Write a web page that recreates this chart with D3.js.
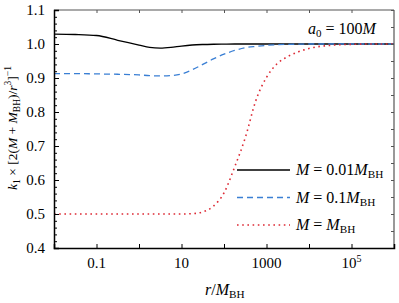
<!DOCTYPE html>
<html><head><meta charset="utf-8">
<script src="https://cdn.jsdelivr.net/npm/d3@7"></script>
</head>
<body style="margin:0;background:#fff"><svg id="c" width="399" height="303"></svg>
<script>
// r / M_BH sample positions (log-spaced)
const rValues = [1e-2, 3.162e-2, 1e-1, 3.162e-1, 1, 1.778, 3.162, 5.623, 10, 17.78, 31.62, 56.23, 100, 177.8, 316.2, 562.3, 1000, 1778, 3162, 5623, 1e4, 3.162e4, 1e5, 3.162e5, 1e6];
const blackSeries = [1.029, 1.028, 1.025, 1.011, 0.997, 0.990, 0.988, 0.990, 0.994, 0.997, 0.9985, 0.9993, 0.9997, 1.0, 1.0, 1.0, 1.0, 1.0, 1.0, 1.0, 1.0, 1.0, 1.0, 1.0, 1.0];
const blueSeries  = [0.913, 0.913, 0.912, 0.911, 0.909, 0.907, 0.906, 0.907, 0.912, 0.924, 0.940, 0.956, 0.970, 0.981, 0.989, 0.993, 0.996, 0.998, 0.999, 0.9995, 1.0, 1.0, 1.0, 1.0, 1.0];
const redSeries   = [0.5, 0.5, 0.5, 0.5, 0.5, 0.5, 0.5, 0.5, 0.5, 0.501, 0.506, 0.523, 0.562, 0.638, 0.724, 0.834, 0.902, 0.942, 0.963, 0.977, 0.987, 0.996, 0.999, 1.0, 1.0];
const seriesNames = ["M = 0.01M_BH", "M = 0.1M_BH", "M = M_BH"];
const xTickValues = [0.1, 1, 10, 100, 1000, 1e4, 1e5];
const xTickLabels = ["0.1", "", "10", "", "1000", "", "10^5"];
const yTickLabels = ["0.4", "0.5", "0.6", "0.7", "0.8", "0.9", "1.0", "1.1"];

const FONT = "Liberation Serif";
const svg = d3.select("#c");
const L = 54, R = 394, T = 10, B = 248;
const x = d3.scaleLog().domain([1e-2, 1e6]).range([L, R]);
const y = d3.scaleLinear().domain([0.4, 1.1]).range([B, T]);

const colors = ["#000000", "#3a7fd4", "#dd2a35"];
const dashes = [null, "6,4", "1.6,3.6"];
const widths = [1.3, 1.3, 1.6];
const allSeries = [blackSeries, blueSeries, redSeries];

svg.append("clipPath").attr("id","clp").append("rect")
  .attr("x", L).attr("y", T).attr("width", R-L).attr("height", B-T);

const line = d3.line().x(d => x(d[0])).y(d => y(d[1])).curve(d3.curveMonotoneX);
allSeries.forEach((s, i) => {
  svg.append("path").datum(rValues.map((r, j) => [r, s[j]]))
    .attr("d", line).attr("fill", "none").attr("stroke", colors[i])
    .attr("stroke-width", widths[i]).attr("stroke-dasharray", dashes[i])
    .attr("clip-path", "url(#clp)");
});

// frame
svg.append("line").attr("x1", R).attr("x2", R).attr("y1", T).attr("y2", B).attr("stroke", "#555").attr("stroke-width", 1.2);
svg.append("line").attr("x1", L).attr("x2", R).attr("y1", T).attr("y2", T).attr("stroke", "#555").attr("stroke-width", 1.2);

// left axis
const yMajor = d3.range(0, 8).map(i => 0.4 + i * 0.1);
const yMinor = d3.range(0, 36).map(i => 0.4 + i * 0.02).filter(v => Math.abs(Math.round(v*10) - v*10) > 1e-6);
const leftAxis = d3.axisLeft(y).tickValues(yMajor).tickSize(-5).tickPadding(9)
  .tickFormat((d, i) => yTickLabels[i]);
const gl = svg.append("g").attr("transform", `translate(${L},0)`).call(leftAxis);
gl.attr("font-family", FONT).attr("font-size", 15);
gl.select(".domain").attr("stroke", "#000").attr("stroke-width", 1.5);
gl.selectAll(".tick line").attr("stroke", "#000").attr("stroke-width", 1);
gl.selectAll("text").attr("font-family", FONT).attr("font-size", 15).attr("fill", "#000");
const glm = svg.append("g").attr("transform", `translate(${L},0)`).call(d3.axisLeft(y).tickValues(yMinor).tickSize(-3).tickFormat(""));
glm.select(".domain").remove();
glm.selectAll(".tick line").attr("stroke", "#000").attr("stroke-width", 1);

// right axis ticks
const yRight = d3.range(0, 15).map(i => 0.4 + i * 0.05);
const gr = svg.append("g").attr("transform", `translate(${R},0)`).call(d3.axisRight(y).tickValues(yRight).tickSize(-3).tickFormat(""));
gr.select(".domain").remove();
gr.selectAll(".tick line").attr("stroke", "#555").attr("stroke-width", 1);

// bottom axis
const bottomAxis = d3.axisBottom(x).tickValues(xTickValues).tickSize(-4).tickFormat(() => "");
const gb = svg.append("g").attr("transform", `translate(0,${B})`).call(bottomAxis);
gb.select(".domain").attr("stroke", "#000").attr("stroke-width", 1.5);
gb.selectAll(".tick line").attr("stroke", "#000").attr("stroke-width", 1);
function txt(xp, yp, size) {
  return svg.append("text").attr("x", xp).attr("y", yp).attr("font-size", size).attr("font-family", FONT).attr("fill", "#000");
}
xTickValues.forEach((v, i) => {
  const lab = xTickLabels[i];
  if (!lab) return;
  const t = txt(x(v), 268, 15).attr("text-anchor", "middle");
  if (lab.includes("^")) {
    const [b, e] = lab.split("^");
    t.append("tspan").text(b);
    t.append("tspan").attr("dy", -6).attr("font-size", 10).text(e);
  } else t.text(lab);
});
// top axis ticks
const gt = svg.append("g").attr("transform", `translate(0,${T})`).call(d3.axisTop(x).tickValues(xTickValues).tickSize(-3).tickFormat(""));
gt.select(".domain").remove();
gt.selectAll(".tick line").attr("stroke", "#555").attr("stroke-width", 1);

function addMBH(t, size) {
  t.append("tspan").attr("font-style", "italic").text("M");
  t.append("tspan").attr("font-size", size * 0.7).attr("dy", 3).text("BH");
  t.append("tspan").attr("dy", -3).text("");
}

// annotation a_0 = 100M
const ta = txt(308, 34, 16);
ta.append("tspan").attr("font-style", "italic").text("a");
ta.append("tspan").attr("font-size", 11).attr("dy", 3).text("0");
ta.append("tspan").attr("dy", -3).text(" = 100");
ta.append("tspan").attr("font-style", "italic").text("M");

// legend
const legY = [170, 197.5, 225];
const legParts = [["M", " = 0.01"], ["M", " = 0.1"], ["M", " = "]];
seriesNames.forEach((name, i) => {
  svg.append("line").attr("x1", 237).attr("x2", 290).attr("y1", legY[i]).attr("y2", legY[i])
    .attr("stroke", colors[i]).attr("stroke-width", widths[i]).attr("stroke-dasharray", dashes[i]);
  const t = txt(296, legY[i] + 5, 16);
  t.append("tspan").attr("font-style", "italic").text(legParts[i][0]);
  t.append("tspan").text(legParts[i][1]);
  addMBH(t, 16);
});

// x label
const xl = txt(205, 295, 16);
xl.append("tspan").attr("font-style", "italic").text("r");
xl.append("tspan").text("/");
addMBH(xl, 16);

// y label
const yl = svg.append("text").attr("transform", "translate(17,128) rotate(-90)").attr("text-anchor", "middle")
  .attr("font-size", 13.5).attr("font-family", FONT).attr("fill", "#000");
yl.append("tspan").attr("font-style", "italic").text("k");
yl.append("tspan").attr("font-size", 9.5).attr("dy", 3).text("1");
yl.append("tspan").attr("dy", -3).text(" \u00d7 [2(");
yl.append("tspan").attr("font-style", "italic").text("M");
yl.append("tspan").text(" + ");
yl.append("tspan").attr("font-style", "italic").text("M");
yl.append("tspan").attr("font-size", 9.5).attr("dy", 3).text("BH");
yl.append("tspan").attr("dy", -3).text(")/");
yl.append("tspan").attr("font-style", "italic").text("r");
yl.append("tspan").attr("font-size", 9.5).attr("dy", -6).text("3");
yl.append("tspan").attr("dy", 6).text("]");
yl.append("tspan").attr("font-size", 9.5).attr("dy", -6).text("\u22121");
</script></body></html>
